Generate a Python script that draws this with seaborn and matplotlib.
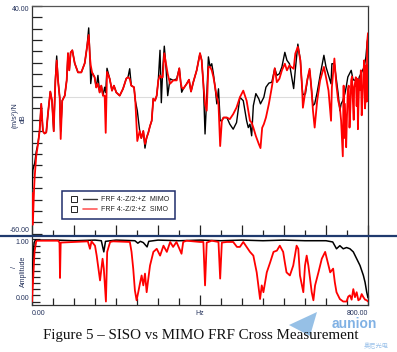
import numpy as np
import pandas as pd
import seaborn as sns
import matplotlib
matplotlib.use("Agg")
import matplotlib.pyplot as plt
from matplotlib.lines import Line2D
from matplotlib.legend_handler import HandlerTuple
from matplotlib.patches import Polygon

# ---------------- data ----------------
mimo_freq = [0, 2, 5, 6.4, 10, 14, 18, 22, 26, 30, 34, 38, 43.6, 47.6, 51.7, 55.5, 58.8, 62, 66, 68.3,
             72, 78, 82.6, 85.7, 88.8, 92, 96, 101.7, 109.5, 117.4, 125.5, 131, 135, 138, 139.8, 143,
             149, 153, 157, 161, 165, 169, 173, 175.5, 178.6, 185, 190.5, 195, 200.7, 208.8, 216.7,
             224.5, 228.6, 232.6, 236.4, 242.9, 246, 250.7, 256.4, 260.2, 265, 269, 273, 277, 281,
             285, 288.8, 292.9, 296.9, 300.7, 304.8, 307.9, 311.2, 315, 319, 323.1, 328.6, 336.4,
             344.5, 350.7, 354, 356.4, 360.2, 368.3, 373.8, 378.6, 384, 392.1, 400, 404, 408, 412,
             416, 420, 424, 428, 432, 436, 440, 444, 448, 452, 456, 464, 471, 479, 487, 495, 503,
             511, 515, 519, 523, 527, 533, 540, 544, 548, 552, 557, 564, 571, 578, 583, 589, 595,
             602, 607, 613, 617, 623, 627, 633, 639, 643, 645, 651, 656, 661, 665, 669, 673, 679,
             686, 695, 700, 706, 712, 714, 720, 724, 729, 733, 736, 740, 745, 748, 752, 756, 760,
             764, 767, 771, 776, 779, 783, 787, 791, 795, 798, 800]
mimo_db = [-40, -32, -30, -29, -24, -20.6, -15, -3, -15, -16, -15.5, -7.3, 2.4, -1.6, -15, 7.3, 18, 7.3, -0.3, -15,
           -1.6, 0.6, 7.3, 19.2, 11.7, 19.5, 20.5, 14.8, 10.8, 10.8, 14.8, 21.9, 30.3, 17.4, 5.9, 10.8,
           8.7, 4.2, 9.5, 2, 5, 0.6, 4.3, 2, 12.6, 8, 2.8, 5, 2, 0.6, 3.6,
           8.1, 8.7, 12.4, 5, 4.3, -1.6, -6, -14.9, -18, -14.9, -22.4, -17.8, -15.6, -12.7,
           -10.4, -0.7, -1.6, 0.6, 7.3, 20.5, -2.5, 12, 22.3, 13.2, 0.6, 8, 7.3,
           8, 12.6, 6.5, 2.1, 3.6, 5.8, 7.6, 2.4, 6.5, 11.7, 19.2, 16.1, 5.8, -16.2,
           0, 17.6, 13.2, 14.6, 10, 4.3, -3, 3.6, -10.4, -10.4, -9, -9, -11.9, -14.1, -11.2, -0.1, -1.6,
           -10.4, -13.4, -11.9, -17, -3.8, 1.5, -0.8, -3, -1.6, -0.1, 4.3, 6.1, 6.5, 12.6, 9.5, 10.2, 13.2,
           19.6, 16.1, 14.6, 10.2, 3.7, 12, 23.2, 16.1, 4.3, 1, 1.4, 8, 11.7, 4.3, -3.8, -3, 2.1,
           9.5, 18.3, 13.2, 9.5, 5.8, 14.6, 14.6, 8.7, 1.4, -6, -3, -1.6, 1.5, 4.3, 8.8, 10.2, 11.7,
           8, 7.3, 7.6, 4.3, 8.7, 10.2, 11.7, 13.2, 17.6, 24, 26]

simo_freq = [0, 2, 5, 6.4, 10, 14, 18, 22, 26, 30, 34, 38, 43.6, 47.6, 51.7, 55.5, 58.8, 62, 66, 68.3,
             72, 78, 82.6, 85.7, 88.8, 92, 96, 101.7, 109.5, 117.4, 125.5, 131, 135, 138, 139.8, 143,
             149, 153, 157, 161, 165, 169, 173, 175.5, 178.6, 185, 190.5, 195, 200.7, 208.8, 216.7,
             224.5, 228.6, 232.6, 236.4, 242.9, 246, 250.7, 256.4, 260.2, 265, 269, 273, 277, 281,
             285, 288.8, 292.9, 296.9, 300.7, 304.8, 307.9, 311.2, 315, 319, 323.1, 328.6, 336.4,
             344.5, 350.7, 354, 356.4, 360.2, 368.3, 373.8, 378.6, 384, 392.1, 400, 404, 408, 412,
             416, 420, 424, 428, 432, 436, 440, 444, 448, 452, 456, 464, 471, 479, 487, 495, 503,
             511, 515, 519, 523, 527, 533, 540, 544, 548, 552, 557, 564, 571, 578, 583, 589, 595,
             602, 607, 613, 617, 623, 627, 633, 639, 643, 645, 651, 656, 661, 665, 669, 673, 679,
             686, 695, 700, 706, 712, 714, 720, 724, 729, 733, 736, 740, 742, 743, 745, 748, 750,
             752, 754, 756, 758, 760, 762, 764, 766, 767, 769, 771, 773, 775, 776, 777, 779, 781,
             783, 785, 787, 789, 791, 793, 795, 796, 797, 798, 800]
simo_db = [-42, -56, -40, -35, -26, -21, -15, -3, -15, -16, -15.5, -7.3, 2.4, -1.6, -15, 6, 16, 7.3, -0.3, -18.4,
           -1.6, 0.6, 7.3, 19.2, 11.7, 19.5, 20.5, 14.8, 10.8, 10.8, 14.8, 21.9, 27.2, 17.4, 14, 10.8,
           8.7, 4.2, 5.8, 2, 5, 0.6, 0.6, -15.7, 11, 8, 2.8, 5, 2, 0.6, 3.6,
           8.1, 8.7, 8, 5, 4.3, -1.6, -19.3, -14.9, -18, -14.9, -20.6, -17.8, -15.6, -12.7,
           -10.4, -0.7, -1.6, 0.6, 7.3, 9.5, 8.5, 8.7, 19.2, 14.6, 10.2, 5.8, 7.3,
           7.3, 12.6, 6.5, 4.2, 3.6, 5.8, 7.6, 2.4, 6.5, 11.7, 19.2, 16.1, 5.8, -3,
           -6, 13.2, 13.2, 11.7, 8.7, 4.3, 0, -3, -21.5, -10.4, -9, -9, -9.7, -7.5, -4.6, -0.1, 2.8,
           -1.6, -6, -10.4, -11.2, -13.4, -17.1, -20.6, -22.4, -13.5, -11.9, -9, -3, 4.3, 12.6, 6.5, 8, 11.7,
           14.6, 11.7, 13.9, 13.2, 12.4, 19.1, 22, 16.1, 4.3, -4.7, 2.8, 8, 12.4, 4.3, -6, -13.4, -1.6,
           7.3, 13.2, 8.7, 2.8, -10.4, 4.3, 16.9, 6.5, -1.6, -4.6, -10.4, -26, 5, -18, -3, -22, -8,
           2.8, 5, -13.4, -5, 7.3, 9, -1.6, -10, 4.3, 6, 8.7, -4, 8, -14.1, -6, 7.3, 3,
           11.7, -8, -0.1, 10, 16.1, -5, 2.1, 14, -2, 24, 28]

mimo_coh_freq = [0, 2, 5, 8, 60, 100, 150, 165, 171, 175, 200, 245, 252, 258, 265, 274, 278, 300, 350,
                 400, 450, 500, 550, 600, 650, 700, 716, 725, 733, 741, 749, 757, 765, 773, 781, 789,
                 793, 797, 800]
mimo_coh = [0.05, 0.6, 0.95, 0.99, 0.99, 0.98, 0.99, 0.98, 0.8, 0.97, 0.99, 0.98, 0.94, 0.97, 0.95, 0.88,
            0.97, 0.99, 0.98, 0.99, 0.98, 0.99, 0.98, 0.99, 0.98, 0.98, 0.96, 0.85, 0.9, 0.85, 0.87, 0.85,
            0.8, 0.69, 0.58, 0.42, 0.31, 0.15, 0.06]

simo_coh_freq = [0, 3, 6, 10, 12, 62, 65.5, 66.7, 68.3, 133, 138, 141.7, 150, 154, 162, 168, 171, 176, 179,
                 186, 193, 233, 237, 241, 245, 249, 253, 257, 261, 265, 269, 273, 277, 281, 285, 289,
                 297, 305, 313, 321, 329, 336, 344, 356, 360, 368, 400, 408, 412, 416, 428, 444, 448,
                 452, 464, 479, 488, 495, 503, 519, 527, 535, 543, 547, 551, 559, 567, 575, 583, 590,
                 598, 602, 606, 614, 622, 630, 634, 638, 646, 650, 654, 658, 662, 666, 670, 674, 682,
                 690, 698, 702, 710, 717, 721, 725, 733, 741, 749, 753, 757, 761, 765, 769, 773, 777,
                 781, 785, 789, 793, 797, 800]
simo_coh = [0.0, 0.4, 0.8, 0.97, 0.98, 0.98, 0.95, 0.38, 0.95, 0.97, 0.85, 0.97, 0.9, 0.74, 0.34, 0.69,
            0.53, 0.0, 0.8, 0.96, 0.97, 0.96, 0.8, 0.53, 0.18, 0.02, 0.15, 0.29, 0.42, 0.26, 0.45, 0.15,
            0.37, 0.58, 0.69, 0.8, 0.85, 0.74, 0.9, 0.8, 0.96, 0.88, 0.96, 0.77, 0.96, 0.98, 0.96, 0.96,
            0.26, 0.95, 0.98, 0.96, 0.37, 0.95, 0.96, 0.96, 0.88, 0.88, 0.96, 0.8, 0.74, 0.47, 0.04,
            0.26, 0.15, 0.47, 0.63, 0.8, 0.82, 0.9, 0.8, 0.63, 0.47, 0.42, 0.58, 0.9, 0.85, 0.42, 0.15,
            0.58, 0.74, 0.58, 0.37, 0.15, 0.02, 0.26, 0.47, 0.69, 0.8, 0.69, 0.47, 0.53, 0.31, 0.15,
            0.04, 0.0, 0.0, 0.08, 0.1, 0.03, 0.2, 0.07, 0.15, 0.02, 0.04, 0.12, 0.07, 0.03, 0.02, 0.0]

legend_labels = ["FRF 4:-Z/2:+Z  MIMO", "FRF 4:-Z/2:+Z  SIMO"]
top_ylabels = {40: "40.00", -60: "-60.00"}
bot_ylabels = {1.0: "1.00", 0.0: "0.00"}
x_labels = ["0.00", "Hz", "800.00"]
caption = "Figure 5 \u2013 SISO vs MIMO FRF Cross Measurement"

# ---------------- style ----------------
sns.set_style("white")
plt.rcParams["font.family"] = ["Liberation Sans", "DejaVu Sans"]
NAVY = "#22305a"
RED = "#ff0000"

W, H = 397, 352
fig = plt.figure(figsize=(W / 100, H / 100), dpi=100)

def fx(px):
    return px / W

def fy(py):
    return 1 - py / H

ax1 = fig.add_axes([fx(32), fy(235), fx(368) - fx(32), fy(5.8) - fy(235)])
ax2 = fig.add_axes([fx(32), fy(304.5), fx(368) - fx(32), fy(236.5) - fy(304.5)])

frf = pd.concat([
    pd.DataFrame({"Hz": mimo_freq, "dB": mimo_db, "series": "MIMO"}),
    pd.DataFrame({"Hz": simo_freq, "dB": simo_db, "series": "SIMO"}),
])
coh = pd.concat([
    pd.DataFrame({"Hz": mimo_coh_freq, "c": mimo_coh, "series": "MIMO"}),
    pd.DataFrame({"Hz": simo_coh_freq, "c": simo_coh, "series": "SIMO"}),
])

ax1.axhline(0, color="#dcdcdc", lw=0.8, zorder=0)
sns.lineplot(data=frf[frf.series == "MIMO"], x="Hz", y="dB", ax=ax1, color="black", lw=1.0,
             estimator=None, sort=False, zorder=3)
sns.lineplot(data=frf[frf.series == "SIMO"], x="Hz", y="dB", ax=ax1, color=RED, lw=1.3,
             estimator=None, sort=False, zorder=4)
sns.lineplot(data=coh[coh.series == "MIMO"], x="Hz", y="c", ax=ax2, color="black", lw=1.1,
             estimator=None, sort=False, zorder=3)
sns.lineplot(data=coh[coh.series == "SIMO"], x="Hz", y="c", ax=ax2, color=RED, lw=1.3,
             estimator=None, sort=False, zorder=4)

for ax in (ax1, ax2):
    ax.set_xlim(0, 800)
    ax.set_xlabel("")
    ax.set_ylabel("")
    ax.set_xticks(np.arange(0, 801, 100))
    ax.set_xticks(np.arange(50, 800, 100), minor=True)
    ax.tick_params(axis="x", which="major", direction="in", length=7, width=0.9, color="#222222",
                   bottom=True, top=False)
    ax.tick_params(axis="x", which="minor", direction="in", length=3.6, width=0.9, color="#222222",
                   bottom=True, top=False)
    ax.tick_params(axis="y", which="both", direction="in", left=True, right=False, width=0.9,
                   color="#222222", labelsize=5, labelcolor=NAVY, pad=2)

ax1.set_ylim(-60.5, 40)
yt = np.arange(-60, 41, 5)
ax1.set_yticks(yt)
ax1.set_yticklabels([top_ylabels.get(int(v), "") for v in yt])
ax1.tick_params(axis="y", length=7)
ax1.set_xticklabels([])
for lab, v in zip(ax1.get_yticklabels(), yt):
    if v == 40:
        lab.set_va("top")
    elif v == -60:
        lab.set_va("bottom")

ax2.set_ylim(-0.048, 1.048)
yt2 = np.round(np.arange(0, 1.01, 0.1), 1)
ax2.set_yticks(yt2)
ax2.set_yticklabels([bot_ylabels.get(float(v), "") for v in yt2])
ax2.tick_params(axis="y", length=5.5)
for lab, v in zip(ax2.get_yticklabels(), yt2):
    if v == 1.0:
        lab.set_va("top")
    elif v == 0.0:
        lab.set_va("bottom")
ax2.set_xticks([0, 400, 800])
ax2.set_xticklabels(x_labels)
ax2.tick_params(axis="x", which="major", labelsize=5, labelcolor=NAVY, pad=4)
xl = ax2.get_xticklabels()
xl[0].set_ha("left")
xl[2].set_ha("right")
# remaining 100 Hz ticks (long) and 50 Hz ticks (short) on the bottom panel
ax2.set_xticks(np.arange(50, 800, 50), minor=True)
ax2.tick_params(axis="x", which="minor", length=5)

for ax in (ax1, ax2):
    for s in ax.spines.values():
        s.set_color("#333333")
        s.set_linewidth(0.9)
ax1.spines["bottom"].set_visible(False)
ax1.spines["top"].set_color("#555555")
ax2.spines["top"].set_visible(False)

# legend
sq = Line2D([], [], marker="s", markersize=4.2, markerfacecolor="white", markeredgecolor="#222222",
            markeredgewidth=0.7, linestyle="None")
h1 = Line2D([], [], color="#333333", lw=1.0)
h2 = Line2D([], [], color="#ff5a5a", lw=1.2)
leg = ax1.legend([(sq, h1), (sq, h2)], legend_labels,
                 handler_map={tuple: HandlerTuple(ndivide=None, pad=0.2)},
                 loc="lower left", bbox_to_anchor=(0.089, 0.07), borderaxespad=0,
                 fontsize=5, handlelength=4.2, handletextpad=0.7, labelspacing=0.45,
                 borderpad=0.8, frameon=True, fancybox=False, framealpha=1)
leg.get_frame().set_edgecolor("#1f2d6b")
leg.get_frame().set_linewidth(1.1)
for t in leg.get_texts():
    t.set_color("#222222")

# navy separator line
fig.add_artist(Line2D([0, 1], [fy(236), fy(236)], transform=fig.transFigure, color="#1f3a6e", lw=1.6))

# axis labels
fig.text(fx(15), fy(115), "(m/s\u00b2)/N", rotation=90, ha="center", va="center", fontsize=5, color=NAVY)
fig.text(fx(23.5), fy(119), "dB", rotation=90, ha="center", va="center", fontsize=5, color=NAVY)
fig.text(fx(14), fy(267), "/", rotation=90, ha="center", va="center", fontsize=5, color=NAVY)
fig.text(fx(23.5), fy(271), "Amplitude", rotation=90, ha="center", va="center", fontsize=5, color=NAVY)

# caption
fig.text(fx(201), fy(335), caption, ha="center", va="center", fontsize=10.8,
         family=["Liberation Serif", "DejaVu Serif"], color="#111111")

# watermark (semi-transparent, as in the reference)
fig.add_artist(Polygon([[fx(317), fy(312)], [fx(289), fy(325)], [fx(310), fy(336)]], closed=True,
                       transform=fig.transFigure, facecolor="#6aa6dc", edgecolor="none", alpha=0.7))
fig.text(fx(354), fy(323.5), "aunion", ha="center", va="center", fontsize=10, fontweight="bold",
         color="#4a90d9", alpha=0.7)
fig.text(fx(376), fy(346), "奥尼光电", ha="center", va="center", fontsize=4.5,
         family=["Noto Sans CJK SC", "DejaVu Sans"], color="#4a90d9", alpha=0.55)

fig.savefig("out.png", dpi=100)
